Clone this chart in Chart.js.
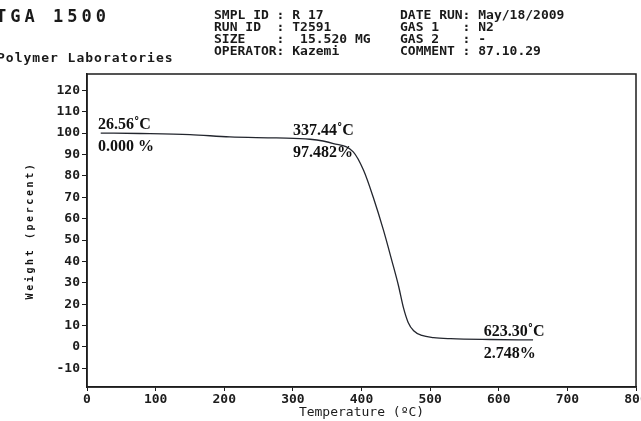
<!DOCTYPE html>
<html>
<head>
<meta charset="utf-8">
<script src="https://cdn.jsdelivr.net/npm/chart.js@4"></script>
<style>
html, body { margin: 0; padding: 0; background: #fff; overflow: hidden; }
#wrap { position: relative; width: 641px; height: 421px; overflow: hidden; }
#graph { position: absolute; left: 0; top: 0; }
.hd { position: absolute; font-family: "DejaVu Sans Mono", monospace; font-weight: bold; font-size: 13px; color: #1a1a1a; white-space: pre; line-height: 12px; }
</style>
</head>
<body>
<div id="wrap">
<canvas id="graph" width="660" height="421"></canvas>
<div class="hd" style="left:-4px;top:8px;font-size:17px;line-height:17px;letter-spacing:4px">TGA 1500</div>
<div class="hd" style="left:-3px;top:52px;letter-spacing:1px">Polymer Laboratories</div>
<div class="hd" style="left:214px;top:9px">SMPL ID : R 17
RUN ID  : T2591
SIZE    :  15.520 MG
OPERATOR: Kazemi</div>
<div class="hd" style="left:400px;top:9px">DATE RUN: May/18/2009
GAS 1   : N2
GAS 2   : -
COMMENT : 87.10.29</div>
</div>
<script>
// TGA curve
const temps   = [20, 77, 150, 208, 276, 325, 359, 388, 403, 417, 432, 444, 454, 461, 468, 476, 488, 505, 530, 587, 650]
const weights = [100, 99.8, 99.3, 98.2, 97.7, 97.1, 95.1, 91.2, 82.6, 70.1, 54.6, 40.6, 28.5, 18.5, 11.5, 7.6, 5.4, 4.4, 3.9, 3.5, 3.3]

const xTicks = [0, 100, 200, 300, 400, 500, 600, 700, 800]
const yTicks = [-10, 0, 10, 20, 30, 40, 50, 60, 70, 80, 90, 100, 110, 120]

// marked points: temperature label over weight label
const noteTemps   = [16, 300, 578]
const noteWeights = [100, 97.4, 3.4]
const noteTop     = ['26.56˚C', '337.44˚C', '623.30˚C']
const noteBottom  = ['0.000 %', '97.482%', '2.748%']

const ink = '#1c1c1c'
const mono = '"DejaVu Sans Mono", monospace'

const extras = {
    id: 'extras',
    afterDraw(chart) {
        const {ctx, chartArea: a, scales: {x, y}} = chart
        ctx.save()
        // frame
        ctx.strokeStyle = ink
        ctx.lineWidth = 1.5
        ctx.strokeRect(a.left, a.top, a.right - a.left, a.bottom - a.top)
        // notes
        ctx.fillStyle = '#111'
        ctx.font = 'bold 16px "Liberation Serif", serif'
        ctx.textAlign = 'left'
        ctx.textBaseline = 'alphabetic'
        noteTemps.forEach((t, i) => {
            const px = x.getPixelForValue(t)
            const py = y.getPixelForValue(noteWeights[i])
            ctx.fillText(noteTop[i], px, py - 4)
            ctx.fillText(noteBottom[i], px, py + 18)
        })
        // y title, spaced out
        ctx.translate(30, (a.top + a.bottom) / 2)
        ctx.rotate(-Math.PI / 2)
        ctx.font = 'bold 10px ' + mono
        ctx.letterSpacing = '2.6px'
        ctx.textAlign = 'center'
        ctx.textBaseline = 'middle'
        ctx.fillText('Weight (percent)', 0, 0)
        ctx.restore()
    }
}

document.addEventListener("DOMContentLoaded", function() {
    let context = document.querySelector("#graph").getContext('2d')
    new Chart(context, {
        type: 'line',
        data: {
            datasets: [{
                data: temps.map((t, i) => ({x: t, y: weights[i]})),
                borderColor: '#23262e',
                borderWidth: 1.3,
                pointRadius: 0,
                cubicInterpolationMode: 'monotone',
                fill: false
            }]
        },
        options: {
            responsive: false,
            animation: false,
            layout: {padding: {top: 74, right: 24, left: 0, bottom: 0}},
            plugins: {
                legend: {display: false},
                tooltip: {enabled: false}
            },
            scales: {
                x: {
                    type: 'linear',
                    min: 0,
                    max: 800,
                    afterBuildTicks: s => { s.ticks = xTicks.map(v => ({value: v})) },
                    afterFit: s => { s.height = 34 },
                    ticks: {
                        color: ink,
                        padding: 1,
                        maxRotation: 0,
                        font: {family: mono, weight: 'bold', size: 13}
                    },
                    grid: {drawOnChartArea: false, tickLength: 4, tickColor: ink},
                    border: {color: ink, width: 1.5},
                    title: {
                        display: true,
                        text: 'Temperature (ºC)',
                        color: ink,
                        padding: {top: 0, bottom: 1},
                        font: {family: mono, size: 13}
                    }
                },
                y: {
                    min: -18.7,
                    max: 127.6,
                    afterBuildTicks: s => { s.ticks = yTicks.map(v => ({value: v})) },
                    afterFit: s => { s.width = 87 },
                    ticks: {
                        color: ink,
                        padding: 2,
                        font: {family: mono, weight: 'bold', size: 13}
                    },
                    grid: {drawOnChartArea: false, tickLength: 5, tickColor: ink},
                    border: {color: ink, width: 1.5}
                }
            }
        },
        plugins: [extras]
    })
})
</script>
</body>
</html>
